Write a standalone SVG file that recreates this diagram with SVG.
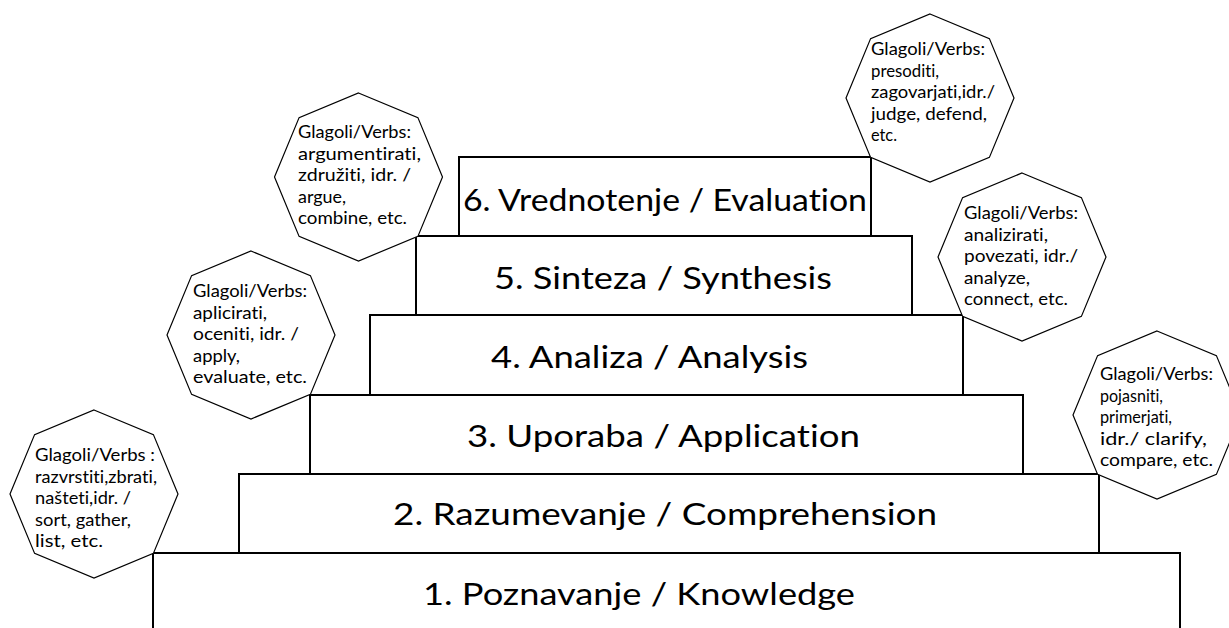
<svg xmlns="http://www.w3.org/2000/svg" width="1229" height="628" viewBox="0 0 1229 628">
<style>
.step{fill:#fff;stroke:#000;stroke-width:2}
.oct{fill:#fff;stroke:#000;stroke-width:1.2}
.lvl{font-family:Lato,"Open Sans",sans-serif;font-size:30px;fill:#000;font-variant-ligatures:none}
.vb{font-family:Lato,"Open Sans",sans-serif;font-size:17.5px;fill:#000;font-variant-ligatures:none}
</style>
<rect width="1229" height="628" fill="#fff"/>
<g id="level1"><rect class="step" x="153" y="553" width="1027" height="90"/>
<text class="lvl" x="423" y="605" textLength="432" lengthAdjust="spacingAndGlyphs">1. Poznavanje / Knowledge</text></g>
<g id="level2"><rect class="step" x="239" y="474" width="860" height="79"/>
<text class="lvl" x="393" y="525" textLength="544" lengthAdjust="spacingAndGlyphs">2. Razumevanje / Comprehension</text></g>
<g id="level3"><rect class="step" x="310" y="395" width="713" height="79"/>
<text class="lvl" x="467" y="447" textLength="393" lengthAdjust="spacingAndGlyphs">3. Uporaba / Application</text></g>
<g id="level4"><rect class="step" x="370" y="315" width="593" height="80"/>
<text class="lvl" x="491" y="368" textLength="317" lengthAdjust="spacingAndGlyphs">4. Analiza / Analysis</text></g>
<g id="level5"><rect class="step" x="416" y="236" width="496" height="79"/>
<text class="lvl" x="494" y="289" textLength="338" lengthAdjust="spacingAndGlyphs">5. Sinteza / Synthesis</text></g>
<g id="level6"><rect class="step" x="459" y="157" width="412" height="79"/>
<text class="lvl" x="463" y="211" textLength="404" lengthAdjust="spacingAndGlyphs">6. Vrednotenje / Evaluation</text></g>

<g id="verbs1"><polygon class="oct" points="94,410 153.4,434.6 178,494 153.4,553.4 94,578 34.6,553.4 10,494 34.6,434.6"/>
<text class="vb" x="35" y="461" textLength="120" lengthAdjust="spacingAndGlyphs">Glagoli/Verbs :</text>
<text class="vb" x="35" y="482.5" textLength="122" lengthAdjust="spacingAndGlyphs">razvrstiti,zbrati,</text>
<text class="vb" x="35" y="504" textLength="96" lengthAdjust="spacingAndGlyphs">našteti,idr. /</text>
<text class="vb" x="35" y="525.5" textLength="96" lengthAdjust="spacingAndGlyphs">sort, gather,</text>
<text class="vb" x="35" y="547" textLength="68" lengthAdjust="spacingAndGlyphs">list, etc.</text></g>

<g id="verbs2"><polygon class="oct" points="251,251 310.4,275.6 335,335 310.4,394.4 251,419 191.6,394.4 167,335 191.6,275.6"/>
<text class="vb" x="193" y="297" textLength="114" lengthAdjust="spacingAndGlyphs">Glagoli/Verbs:</text>
<text class="vb" x="193" y="318.5" textLength="74" lengthAdjust="spacingAndGlyphs">aplicirati,</text>
<text class="vb" x="193" y="340" textLength="106" lengthAdjust="spacingAndGlyphs">oceniti, idr. /</text>
<text class="vb" x="193" y="361.5" textLength="47" lengthAdjust="spacingAndGlyphs">apply,</text>
<text class="vb" x="193" y="383" textLength="114" lengthAdjust="spacingAndGlyphs">evaluate, etc.</text></g>

<g id="verbs3"><polygon class="oct" points="358.5,93 417.9,117.6 442.5,177 417.9,236.4 358.5,261 299.1,236.4 274.5,177 299.1,117.6"/>
<text class="vb" x="298" y="138" textLength="113" lengthAdjust="spacingAndGlyphs">Glagoli/Verbs:</text>
<text class="vb" x="298" y="159.5" textLength="123" lengthAdjust="spacingAndGlyphs">argumentirati,</text>
<text class="vb" x="298" y="181" textLength="113" lengthAdjust="spacingAndGlyphs">združiti, idr. /</text>
<text class="vb" x="298" y="202.5" textLength="48" lengthAdjust="spacingAndGlyphs">argue,</text>
<text class="vb" x="298" y="224" textLength="109" lengthAdjust="spacingAndGlyphs">combine, etc.</text></g>

<g id="verbs4"><polygon class="oct" points="930,14 989.4,38.6 1014,98 989.4,157.4 930,182 870.6,157.4 846,98 870.6,38.6"/>
<text class="vb" x="871" y="55" textLength="114" lengthAdjust="spacingAndGlyphs">Glagoli/Verbs:</text>
<text class="vb" x="871" y="76.5" textLength="68" lengthAdjust="spacingAndGlyphs">presoditi,</text>
<text class="vb" x="871" y="98" textLength="124" lengthAdjust="spacingAndGlyphs">zagovarjati,idr./</text>
<text class="vb" x="871" y="119.5" textLength="116" lengthAdjust="spacingAndGlyphs">judge, defend,</text>
<text class="vb" x="871" y="141" textLength="26" lengthAdjust="spacingAndGlyphs">etc.</text></g>

<g id="verbs5"><polygon class="oct" points="1022,173 1081.4,197.6 1106,257 1081.4,316.4 1022,341 962.6,316.4 938,257 962.6,197.6"/>
<text class="vb" x="964" y="219" textLength="114" lengthAdjust="spacingAndGlyphs">Glagoli/Verbs:</text>
<text class="vb" x="964" y="240.5" textLength="84" lengthAdjust="spacingAndGlyphs">analizirati,</text>
<text class="vb" x="964" y="262" textLength="114" lengthAdjust="spacingAndGlyphs">povezati, idr./</text>
<text class="vb" x="964" y="283.5" textLength="66" lengthAdjust="spacingAndGlyphs">analyze,</text>
<text class="vb" x="964" y="305" textLength="104" lengthAdjust="spacingAndGlyphs">connect, etc.</text></g>

<g id="verbs6"><polygon class="oct" points="1157,331 1216.4,355.6 1241,415 1216.4,474.4 1157,499 1097.6,474.4 1073,415 1097.6,355.6"/>
<text class="vb" x="1100" y="380" textLength="113" lengthAdjust="spacingAndGlyphs">Glagoli/Verbs:</text>
<text class="vb" x="1100" y="401.5" textLength="63" lengthAdjust="spacingAndGlyphs">pojasniti,</text>
<text class="vb" x="1100" y="423" textLength="72" lengthAdjust="spacingAndGlyphs">primerjati,</text>
<text class="vb" x="1100" y="444.5" textLength="107" lengthAdjust="spacingAndGlyphs">idr./ clarify,</text>
<text class="vb" x="1100" y="466" textLength="113" lengthAdjust="spacingAndGlyphs">compare, etc.</text></g>
</svg>
